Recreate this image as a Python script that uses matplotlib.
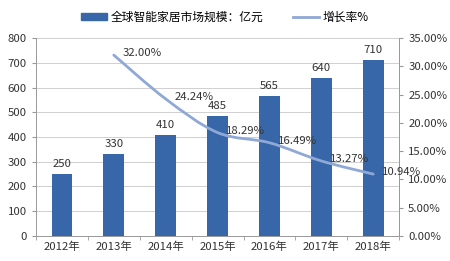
import matplotlib
matplotlib.use("Agg")
import matplotlib.pyplot as plt
from matplotlib.lines import Line2D
from matplotlib.patches import Patch, PathPatch
from matplotlib.path import Path

plt.rcParams['font.family'] = ['Noto Sans CJK SC', 'DejaVu Sans']

years = ["2012年", "2013年", "2014年", "2015年", "2016年", "2017年", "2018年"]
market = [250, 330, 410, 485, 565, 640, 710]
growth_years_idx = [1, 2, 3, 4, 5, 6]
growth = [32.00, 24.24, 18.29, 16.49, 13.27, 10.94]

bar_color = "#3767A8"
line_color = "#8FA8D6"
text_color = "#333333"
fs = 8.2

fig = plt.figure(figsize=(4.5, 2.61), dpi=100)
ax = fig.add_axes([0.08, 0.096, 0.807, 0.758])
ax2 = ax.twinx()

x = list(range(len(years)))
ax.bar(x, market, width=0.4, color=bar_color, zorder=2)
for xi, v in zip(x, market):
    ax.text(xi, v + 20, str(v), ha="center", va="bottom", fontsize=fs, color=text_color)

ax.set_ylim(0, 800)
ax.set_yticks(range(0, 801, 100))
ax.set_xlim(-0.5, len(years) - 0.5)
ax.set_xticks(x)
ax.set_xticklabels(years)
ax.set_xticks([i - 0.5 for i in range(len(years) + 1)], minor=True)
ax.tick_params(axis="x", which="major", length=0, labelsize=fs, colors=text_color, pad=4)
ax.tick_params(axis="x", which="minor", length=3, color="#999999")
ax.tick_params(axis="y", labelsize=fs, colors=text_color, length=3, color="#999999")
ax.yaxis.grid(True, color="#D0D0D0", linewidth=0.7, zorder=0)
ax.set_axisbelow(True)
ax.spines["top"].set_visible(False)
for s in ["left", "bottom", "right"]:
    ax.spines[s].set_color("#999999")
    ax.spines[s].set_linewidth(0.7)

# smoothed line (Bezier through the data points, like Excel's smoothed line)
pts = list(zip(growth_years_idx, growth))
verts = [pts[0]]
codes = [Path.MOVETO]
t = 1.0 / 6.0
for i in range(len(pts) - 1):
    p0 = pts[i - 1] if i > 0 else pts[i]
    p1 = pts[i]
    p2 = pts[i + 1]
    p3 = pts[i + 2] if i + 2 < len(pts) else pts[i + 1]
    c1 = (p1[0] + (p2[0] - p0[0]) * t, p1[1] + (p2[1] - p0[1]) * t)
    c2 = (p2[0] - (p3[0] - p1[0]) * t, p2[1] - (p3[1] - p1[1]) * t)
    verts += [c1, c2, p2]
    codes += [Path.CURVE4] * 3
ax2.add_patch(PathPatch(Path(verts, codes), facecolor="none", edgecolor=line_color,
                        linewidth=2, zorder=3, capstyle="round"))
for xi, g in zip(growth_years_idx, growth):
    ax2.text(xi + 0.17, g + 0.3, f"{g:.2f}%", ha="left", va="center", fontsize=fs, color=text_color)
ax2.set_ylim(0, 35)
ax2.set_yticks(range(0, 36, 5))
ax2.set_yticklabels([f"{tk:.2f}%" for tk in range(0, 36, 5)])
ax2.tick_params(axis="y", labelsize=fs, colors=text_color, length=3, color="#999999")
ax2.spines["top"].set_visible(False)
ax2.spines["left"].set_visible(False)
ax2.spines["bottom"].set_visible(False)
ax2.spines["right"].set_color("#999999")
ax2.spines["right"].set_linewidth(0.7)

handles = [Patch(color=bar_color), Line2D([0], [0], color=line_color, linewidth=2)]
labels = ["全球智能家居市场规模：亿元", "增长率%"]
fig.legend(handles, labels, loc="upper center", bbox_to_anchor=(0.5, 1.0), ncol=2,
           frameon=False, fontsize=8.5, handlelength=2.2, handleheight=0.6,
           handletextpad=0.3, columnspacing=2.5)

fig.savefig("out.png", dpi=100)
